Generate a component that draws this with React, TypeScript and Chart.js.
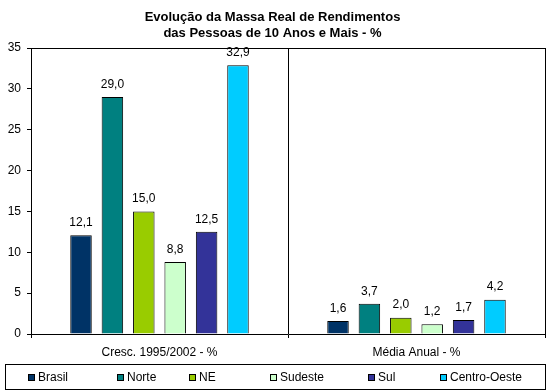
import React, { useEffect, useRef } from "react";
import { Chart, registerables } from "chart.js";

Chart.register(...registerables);

const TITLE_LINES = ["Evolução da Massa Real de Rendimentos", "das Pessoas de 10 Anos e Mais - %"];
const CATEGORIES = ["Cresc. 1995/2002 - %", "Média Anual - %"];
const SERIES_NAMES = ["Brasil", "Norte", "NE", "Sudeste", "Sul", "Centro-Oeste"];
const BRASIL = [12.1, 1.6];
const NORTE = [29.0, 3.7];
const NE = [15.0, 2.0];
const SUDESTE = [8.8, 1.2];
const SUL = [12.5, 1.7];
const CENTRO_OESTE = [32.9, 4.2];
const SERIES_VALUES = [BRASIL, NORTE, NE, SUDESTE, SUL, CENTRO_OESTE];
const COLORS = ["#003366", "#008080", "#99CC00", "#CCFFCC", "#333399", "#00CCFF"];
const Y_MIN = 0;
const Y_MAX = 35;
const Y_STEP = 5;

// legend layout (item left edges in px)
const LEGEND_ITEM_X = [28, 117, 189, 270, 368, 440];

const FONT = "'Liberation Sans', Arial, sans-serif";

const fmt = (v: number) => v.toFixed(1).replace(".", ",");

const decorPlugin = {
  id: "decor",
  beforeDraw(chart: any) {
    const { ctx, width, height } = chart;
    ctx.save();
    ctx.fillStyle = "#ffffff";
    ctx.fillRect(0, 0, width, height);
    ctx.restore();
  },
  afterDraw(chart: any) {
    const { ctx, chartArea } = chart;
    ctx.save();
    ctx.strokeStyle = "#000";
    ctx.lineWidth = 1;
    ctx.beginPath();
    ctx.moveTo(chartArea.left, Math.round(chartArea.top) + 0.5);
    ctx.lineTo(chartArea.right, Math.round(chartArea.top) + 0.5);
    ctx.stroke();

    // data labels
    ctx.font = `12px ${FONT}`;
    ctx.fillStyle = "#000";
    ctx.textAlign = "center";
    ctx.textBaseline = "middle";
    chart.data.datasets.forEach((ds: any, i: number) => {
      const meta = chart.getDatasetMeta(i);
      meta.data.forEach((el: any, j: number) => {
        ctx.fillText(fmt(ds.data[j]), el.x, el.y - 12.5);
      });
    });

    // legend
    const lx = 5.5, ly = 364.5, lw = 540, lh = 25;
    ctx.strokeRect(lx, ly, lw, lh);
    const cy = ly + lh / 2;
    ctx.textAlign = "left";
    ctx.textBaseline = "middle";
    SERIES_NAMES.forEach((name, i) => {
      const x = LEGEND_ITEM_X[i];
      ctx.fillStyle = COLORS[i];
      ctx.fillRect(x + 0.5, Math.round(cy - 3.5) + 0.5, 6, 6);
      ctx.strokeStyle = "#000";
      ctx.strokeRect(x + 0.5, Math.round(cy - 3.5) + 0.5, 6, 6);
      ctx.fillStyle = "#000";
      ctx.fillText(name, x + 10, cy + 0.5);
    });
    ctx.restore();
  },
};

export default function App() {
  const ref = useRef<HTMLCanvasElement>(null);
  useEffect(() => {
    if (!ref.current) return;
    const chart = new Chart(ref.current, {
      type: "bar",
      data: {
        labels: CATEGORIES,
        datasets: SERIES_NAMES.map((name, i) => ({
          label: name,
          data: SERIES_VALUES[i],
          backgroundColor: COLORS[i],
          borderColor: "#000",
          borderWidth: 1,
          categoryPercentage: 0.733,
          barPercentage: 0.685,
        })),
      },
      options: {
        responsive: false,
        animation: false,
        layout: { padding: { left: 0, right: 5, top: 0, bottom: 36 } },
        plugins: {
          legend: { display: false },
          tooltip: { enabled: false },
          title: {
            display: true,
            text: TITLE_LINES,
            color: "#000",
            font: { family: FONT, size: 13, weight: "bold", lineHeight: 16 / 13 },
            padding: { top: 9, bottom: 7 },
          },
        },
        scales: {
          x: {
            grid: {
              display: true,
              offset: true,
              drawOnChartArea: true,
              color: "#000",
              tickLength: 4,
              lineWidth: 1,
            },
            border: { display: true, color: "#000" },
            ticks: {
              color: "#000",
              font: { family: FONT, size: 12 },
              padding: 7,
              maxRotation: 0,
            },
            afterFit: (s: any) => {
              s.height = 22;
            },
          },
          y: {
            min: Y_MIN,
            max: Y_MAX,
            ticks: {
              stepSize: Y_STEP,
              color: "#000",
              font: { family: FONT, size: 12 },
              padding: 6,
            },
            grid: {
              display: true,
              drawOnChartArea: false,
              color: "#000",
              tickLength: 4,
            },
            border: { display: true, color: "#000" },
            afterFit: (s: any) => {
              s.width = 31;
            },
          },
        },
      },
      plugins: [decorPlugin],
    });
    return () => chart.destroy();
  }, []);
  return (
    <div style={{ position: "absolute", left: 0, top: 0, width: 550, height: 392, background: "#fff" }}>
      <canvas ref={ref} width={550} height={392} />
    </div>
  );
}
